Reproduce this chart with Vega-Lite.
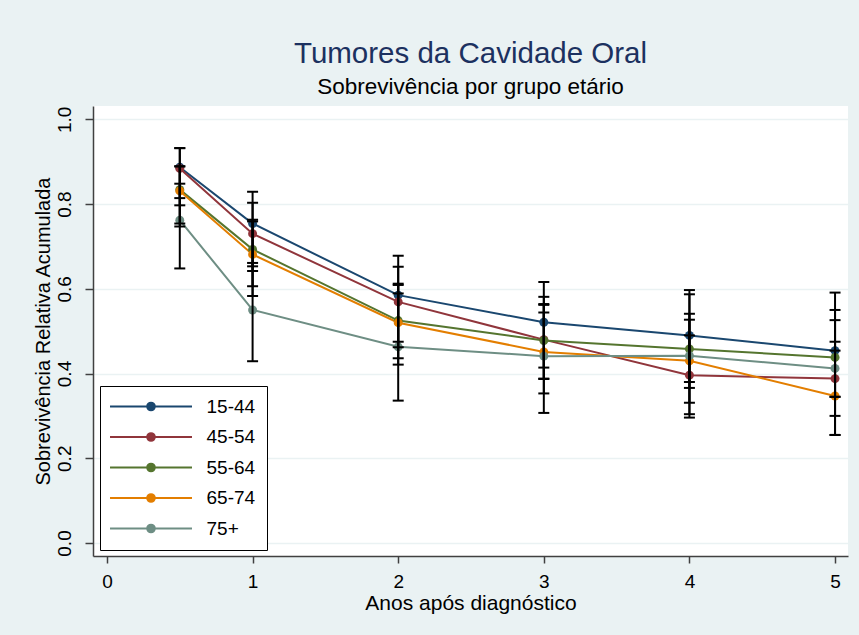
{
  "$schema": "https://vega.github.io/schema/vega-lite/v6.json",
  "width": 755,
  "height": 450,
  "autosize": {"type": "none"},
  "padding": {"left": 93, "top": 106, "right": 11, "bottom": 79},
  "background": "#EAF2F3",
  "title": {
    "text": "Tumores da Cavidade Oral",
    "subtitle": "Sobrevivência por grupo etário",
    "anchor": "middle",
    "frame": "group",
    "offset": 7,
    "font": "Liberation Sans",
    "fontSize": 29.5,
    "fontWeight": "normal",
    "color": "#1C3160",
    "subtitleFont": "Liberation Sans",
    "subtitleFontSize": 22.5,
    "subtitleColor": "#000000",
    "subtitlePadding": 6
  },
  "config": {
    "view": {"stroke": null, "fill": "white"},
    "font": "Liberation Sans",
    "axis": {
      "labelFont": "Liberation Sans",
      "titleFont": "Liberation Sans",
      "labelColor": "#000000",
      "titleColor": "#000000",
      "titleFontWeight": "normal",
      "domainColor": "#404040",
      "tickColor": "#404040",
      "domainWidth": 1.5,
      "tickWidth": 1.5
    },
    "legend": {
      "orient": "none",
      "legendX": 7,
      "legendY": 280,
      "strokeColor": "#000000",
      "fillColor": "#ffffff",
      "padding": 11,
      "labelFont": "Liberation Sans",
      "labelFontSize": 19,
      "labelColor": "#000000",
      "symbolType": "M-4.82,0H4.82M-0.45,0A0.45,0.45 0 1,1 0.45,0A0.45,0.45 0 1,1 -0.45,0Z",
      "symbolSize": 289,
      "symbolStrokeWidth": 2,
      "symbolOpacity": 1,
      "symbolOffset": 30.5,
      "rowPadding": 10.5,
      "labelOffset": 46
    }
  },
  "data": {
    "values": [
      {"group": "15-44", "t": 0.5, "s": 0.887, "lo": 0.814, "hi": 0.932},
      {"group": "15-44", "t": 1, "s": 0.754, "lo": 0.653, "hi": 0.829},
      {"group": "15-44", "t": 2, "s": 0.585, "lo": 0.475, "hi": 0.678},
      {"group": "15-44", "t": 3, "s": 0.521, "lo": 0.414, "hi": 0.616},
      {"group": "15-44", "t": 4, "s": 0.490, "lo": 0.380, "hi": 0.597},
      {"group": "15-44", "t": 5, "s": 0.454, "lo": 0.345, "hi": 0.591},
      {"group": "45-54", "t": 0.5, "s": 0.884, "lo": 0.797, "hi": 0.932},
      {"group": "45-54", "t": 1, "s": 0.730, "lo": 0.642, "hi": 0.803},
      {"group": "45-54", "t": 2, "s": 0.569, "lo": 0.436, "hi": 0.652},
      {"group": "45-54", "t": 3, "s": 0.480, "lo": 0.387, "hi": 0.581},
      {"group": "45-54", "t": 4, "s": 0.396, "lo": 0.296, "hi": 0.527},
      {"group": "45-54", "t": 5, "s": 0.388, "lo": 0.255, "hi": 0.526},
      {"group": "55-64", "t": 0.5, "s": 0.834, "lo": 0.754, "hi": 0.889},
      {"group": "55-64", "t": 1, "s": 0.693, "lo": 0.606, "hi": 0.763},
      {"group": "55-64", "t": 2, "s": 0.525, "lo": 0.462, "hi": 0.589},
      {"group": "55-64", "t": 3, "s": 0.478, "lo": 0.388, "hi": 0.562},
      {"group": "55-64", "t": 4, "s": 0.458, "lo": 0.366, "hi": 0.541},
      {"group": "55-64", "t": 5, "s": 0.438, "lo": 0.345, "hi": 0.550},
      {"group": "65-74", "t": 0.5, "s": 0.831, "lo": 0.747, "hi": 0.889},
      {"group": "65-74", "t": 1, "s": 0.681, "lo": 0.583, "hi": 0.759},
      {"group": "65-74", "t": 2, "s": 0.520, "lo": 0.421, "hi": 0.612},
      {"group": "65-74", "t": 3, "s": 0.451, "lo": 0.353, "hi": 0.544},
      {"group": "65-74", "t": 4, "s": 0.430, "lo": 0.304, "hi": 0.587},
      {"group": "65-74", "t": 5, "s": 0.347, "lo": 0.255, "hi": 0.454},
      {"group": "75+", "t": 0.5, "s": 0.762, "lo": 0.648, "hi": 0.848},
      {"group": "75+", "t": 1, "s": 0.550, "lo": 0.429, "hi": 0.661},
      {"group": "75+", "t": 2, "s": 0.463, "lo": 0.336, "hi": 0.609},
      {"group": "75+", "t": 3, "s": 0.441, "lo": 0.307, "hi": 0.564},
      {"group": "75+", "t": 4, "s": 0.442, "lo": 0.331, "hi": 0.490},
      {"group": "75+", "t": 5, "s": 0.412, "lo": 0.300, "hi": 0.475}
    ]
  },
  "encoding": {
    "x": {
      "field": "t",
      "type": "quantitative",
      "scale": {"domain": [-0.096, 5.089], "nice": false, "zero": false},
      "axis": {
        "title": "Anos após diagnóstico",
        "values": [0, 1, 2, 3, 4, 5],
        "format": "d",
        "grid": false,
        "tickSize": 7,
        "labelFontSize": 19,
        "labelPadding": 9,
        "titleFontSize": 21,
        "titlePadding": 1
      }
    }
  },
  "layer": [
    {
      "mark": {"type": "line", "strokeWidth": 2},
      "encoding": {
        "y": {
          "field": "s",
          "type": "quantitative",
          "scale": {"domain": [-0.0307, 1.0314], "nice": false, "zero": false},
          "axis": {
            "title": "Sobrevivência Relativa Acumulada",
            "values": [0, 0.2, 0.4, 0.6, 0.8, 1.0],
            "format": ".1f",
            "grid": true,
            "gridColor": "#EAF2F3",
            "gridWidth": 1.5,
            "tickSize": 8,
            "labelAngle": 270,
            "labelAlign": "center",
            "labelBaseline": "bottom",
            "labelPadding": 11,
            "labelFontSize": 19,
            "titleFontSize": 20,
            "titlePadding": 2
          }
        },
        "color": {
          "field": "group",
          "type": "nominal",
          "scale": {
            "domain": ["15-44", "45-54", "55-64", "65-74", "75+"],
            "range": ["#1A476F", "#90353B", "#55752F", "#E37E00", "#6E8E84"]
          },
          "legend": {
            "title": null,
            "encode": {
              "symbols": {
                "update": {
                  "fill": {"scale": "color", "field": "value"},
                  "stroke": {"scale": "color", "field": "value"},
                  "strokeWidth": {"value": 2},
                  "opacity": {"value": 1}
                }
              }
            }
          }
        }
      }
    },
    {
      "mark": {"type": "point", "filled": true, "size": 80, "opacity": 1},
      "encoding": {
        "y": {"field": "s", "type": "quantitative", "title": "Sobrevivência Relativa Acumulada", "scale": {"domain": [-0.0307, 1.0314], "nice": false, "zero": false}},
        "color": {"field": "group", "type": "nominal"}
      }
    },
    {
      "mark": {"type": "rule", "color": "#000000", "strokeWidth": 2},
      "encoding": {
        "y": {"field": "lo", "type": "quantitative", "title": "Sobrevivência Relativa Acumulada", "scale": {"domain": [-0.0307, 1.0314], "nice": false, "zero": false}},
        "y2": {"field": "hi"}
      }
    },
    {
      "mark": {"type": "tick", "orient": "horizontal", "color": "#000000", "size": 11, "thickness": 2, "opacity": 1},
      "encoding": {
        "y": {"field": "lo", "type": "quantitative", "title": "Sobrevivência Relativa Acumulada", "scale": {"domain": [-0.0307, 1.0314], "nice": false, "zero": false}}
      }
    },
    {
      "mark": {"type": "tick", "orient": "horizontal", "color": "#000000", "size": 11, "thickness": 2, "opacity": 1},
      "encoding": {
        "y": {"field": "hi", "type": "quantitative", "title": "Sobrevivência Relativa Acumulada", "scale": {"domain": [-0.0307, 1.0314], "nice": false, "zero": false}}
      }
    }
  ]
}
